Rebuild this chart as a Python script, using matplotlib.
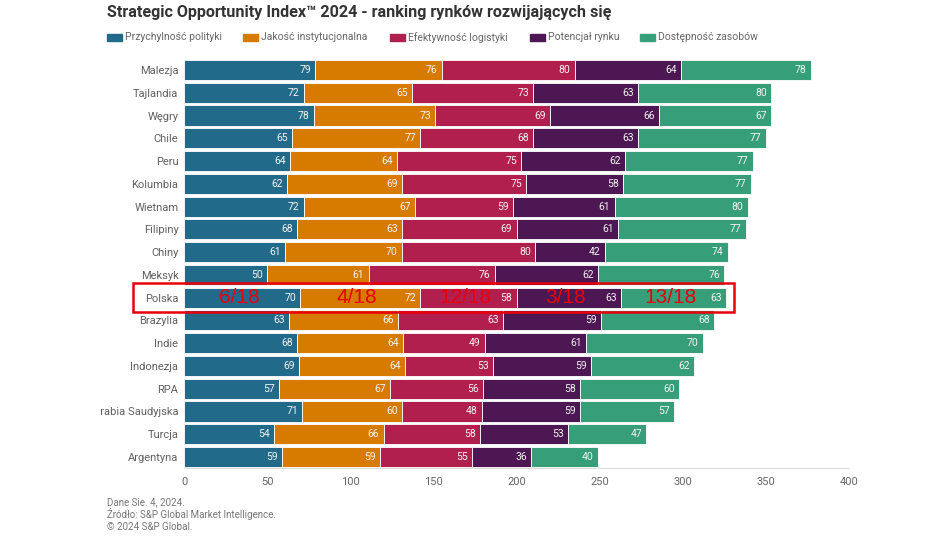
import matplotlib.pyplot as plt
from matplotlib.patches import Rectangle
from matplotlib.transforms import Bbox, TransformedBbox

countries = ["Malezja", "Tajlandia", "Węgry", "Chile", "Peru", "Kolumbia", "Wietnam",
             "Filipiny", "Chiny", "Meksyk", "Polska", "Brazylia", "Indie", "Indonezja",
             "RPA", "Arabia Saudyjska", "Turcja", "Argentyna"]
polityka = [79, 72, 78, 65, 64, 62, 72, 68, 61, 50, 70, 63, 68, 69, 57, 71, 54, 59]
instytucje = [76, 65, 73, 77, 64, 69, 67, 63, 70, 61, 72, 66, 64, 64, 67, 60, 66, 59]
logistyka = [80, 73, 69, 68, 75, 75, 59, 69, 80, 76, 58, 63, 49, 53, 56, 48, 58, 55]
potencjal = [64, 63, 66, 63, 62, 58, 61, 61, 42, 62, 63, 59, 61, 59, 58, 59, 53, 36]
zasoby = [78, 80, 67, 77, 77, 77, 80, 77, 74, 76, 63, 68, 70, 62, 60, 57, 47, 40]
series_names = ["Przychylność polityki", "Jakość instytucjonalna", "Efektywność logistyki",
                "Potencjał rynku", "Dostępność zasobów"]
polska_ranks = ["6/18", "4/18", "12/18", "3/18", "13/18"]
footer = ["Dane Sie. 4, 2024.", "Źródło: S&P Global Market Intelligence.", "© 2024 S&P Global."]

colors = ["#226a8a", "#d67a00", "#b11f4f", "#4c1752", "#369e79"]
series = [polityka, instytucje, logistyka, potencjal, zasoby]

plt.rcParams['font.family'] = ['Roboto', 'DejaVu Sans']

W, H = 948, 536
fig = plt.figure(figsize=(W / 100, H / 100), dpi=100)
ax = fig.add_axes([184 / W, 1 - 468.4 / H, 665 / W, (468.4 - 58.6) / H])

ypos = list(range(len(countries)))
left = [0] * len(countries)
for vals, col, name in zip(series, colors, series_names):
    ax.barh(ypos, vals, left=left, height=0.88, color=col, edgecolor="white",
            linewidth=0.6, label=name)
    for y, l, v in zip(ypos, left, vals):
        ax.text(l + v - 2.5, y, str(v), ha="right", va="center", color="#f4f4f4",
                fontsize=7.5)
    left = [a + b for a, b in zip(left, vals)]

ax.set_xlim(0, 400)
ax.set_ylim(len(countries) - 0.5, -0.5)
ax.set_yticks(ypos)
ax.set_yticklabels(countries, fontsize=8, color="#606060")
ax.set_xticks(range(0, 401, 50))
ax.tick_params(axis="x", labelsize=8, labelcolor="#666666", length=0, pad=6)
ax.tick_params(axis="y", length=0, pad=4)
for s in ["top", "right", "left"]:
    ax.spines[s].set_visible(False)
ax.spines["bottom"].set_color("#dddddd")

# the source crop cuts the left edge of the chart
clip = TransformedBbox(Bbox([[100 / W, 0], [1, 1]]), fig.transFigure)
for lab in ax.get_yticklabels():
    lab.set_clip_box(clip)
    lab.set_clip_on(True)

# Polska highlight
pi = countries.index("Polska")
start = 0
for i, vals in enumerate(series):
    v = vals[pi]
    ax.text(start + v / 2 - 2, pi, polska_ranks[i], ha="center", va="center",
            color="#e8000b", fontsize=15, family="Liberation Sans")
    start += v
ax.add_patch(Rectangle((-30.7, pi - 0.64), 361.7, 1.28, fill=False,
                       edgecolor="#e8000b", linewidth=1.8, clip_on=False))

fig.text(107 / W, 1 - 13 / H, "Strategic Opportunity Index™ 2024 - ranking rynków rozwijających się",
         fontsize=11.6, fontweight="bold", color="#333333", va="center", ha="left")

leg_x = [107, 243, 390, 530, 640]
for x, col, name in zip(leg_x, colors, series_names):
    fig.patches.append(Rectangle((x / W, 1 - 41 / H), 15 / W, 7 / H, color=col,
                                 transform=fig.transFigure))
    fig.text((x + 18) / W, 1 - 37.5 / H, name, fontsize=7.5, color="#666666",
             va="center", ha="left")

for i, t in enumerate(footer):
    fig.text(107 / W, 1 - (502 + 12.5 * i) / H, t, fontsize=7, color="#777777",
             va="center", ha="left")

fig.savefig("out.png", dpi=100)
